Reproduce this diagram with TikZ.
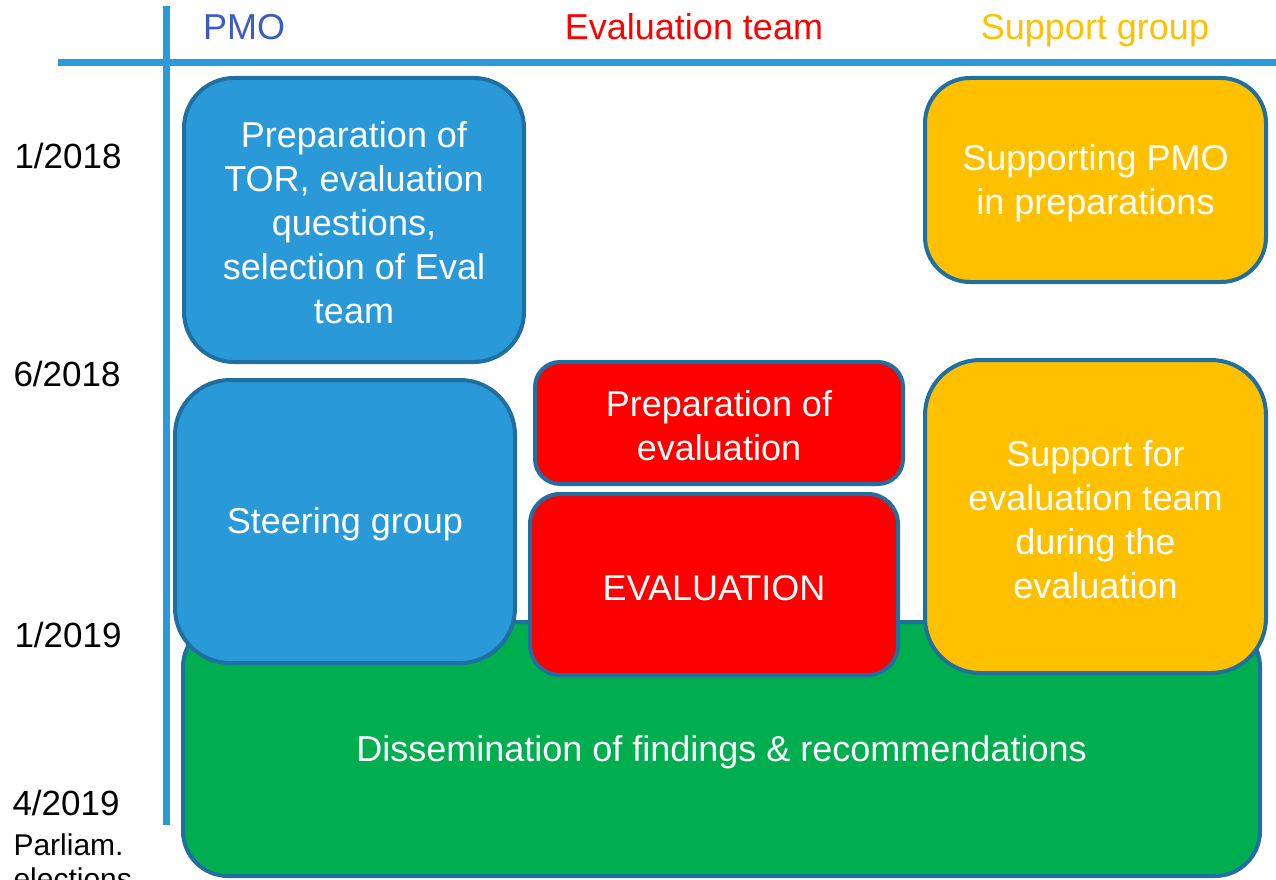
\documentclass[tikz,border=0pt]{standalone}
\usepackage{fontspec}
\setmainfont{Liberation Sans}
\usetikzlibrary{positioning}
\definecolor{axisblue}{HTML}{2A9AD8}
\definecolor{edgeblue}{HTML}{1F6FA0}
\definecolor{pmoblue}{HTML}{2A99D7}
\definecolor{pmotext}{HTML}{3A5BC4}
\definecolor{evalred}{HTML}{FF0000}
\definecolor{suppyellow}{HTML}{FFC000}
\definecolor{dissgreen}{HTML}{00AE4F}
\tikzset{phase/.style={draw=edgeblue,line width=4pt,rounded corners=#1,
    inner sep=0pt,outer sep=0pt,text=white,align=center,
    font=\fontsize{36}{44}\selectfont},
  phase/.default=50pt,
  head/.style={anchor=base,font=\fontsize{36}{43}\selectfont},
  date/.style={anchor=base west,font=\fontsize{35}{42}\selectfont}}

\begin{document}
\begin{tikzpicture}[x=1pt,y=-1pt]
\useasboundingbox (0,0) rectangle (1276,880);
% Draw axes
\coordinate (HL) at (58,63);
\coordinate (HR) at (1276,63);
\coordinate (VT) at (166,6);
\coordinate (VB) at (166,825);
\draw [axisblue,line width=7pt] (HL) -- (HR);
\draw [axisblue,line width=7pt] (VT) -- (VB);

% Column heads
\node (pmo)  [head,text=pmotext]    at (244,40) {PMO};
\node (team) [head,text=evalred]    at (694,40) {Evaluation team};
\node (supp) [head,text=suppyellow] at (1095,40) {Support group};

% Dates
\node (d1) [date] at (11,168) {1/2018};
\node (d2) [date] at (10,386) {6/2018};
\node (d3) [date] at (11,647) {1/2019};
\node (d4) [date] at (9,815) {4/2019};
\node (d5) [date,font=\fontsize{30}{36}\selectfont] at (10,855) {Parliam.};
\node (d6) [date,font=\fontsize{30}{36}\selectfont] at (10,889) {elections};

% Phases
\node (dissem) [phase=45pt,fill=dissgreen,minimum width=1077pt,minimum height=254pt]
  at (721.5,749) {\rule{0pt}{32pt}Dissemination of findings \& recommendations};
\node (tor) [phase=50pt,fill=pmoblue,minimum width=340pt,minimum height=284pt]
  at (354,220) {\rule{0pt}{32pt}Preparation of\\TOR, evaluation\\questions,\\selection of Eval\\team};
\node (suppprep) [phase=45pt,fill=suppyellow,minimum width=341pt,minimum height=204pt]
  at (1095.5,180) {\rule{0pt}{32pt}Supporting PMO\\in preparations};
\node (steer) [phase=55pt,fill=pmoblue,minimum width=340pt,minimum height=283pt]
  at (345,521.5) {\rule{0pt}{32pt}Steering group};
\node (evalprep) [phase=25pt,fill=evalred,minimum width=368pt,minimum height=122pt]
  at (719,423) {\rule{0pt}{32pt}Preparation of\\evaluation};
\node (eval) [phase=30pt,fill=evalred,minimum width=368pt,minimum height=181pt]
  at (714,584.5) {\rule{0pt}{32pt}EVALUATION};
\node (suppeval) [phase=55pt,fill=suppyellow,minimum width=341pt,minimum height=313pt]
  at (1095.5,516.5) {\rule{0pt}{32pt}Support for\\evaluation team\\during the\\evaluation};
\end{tikzpicture}
\end{document}
